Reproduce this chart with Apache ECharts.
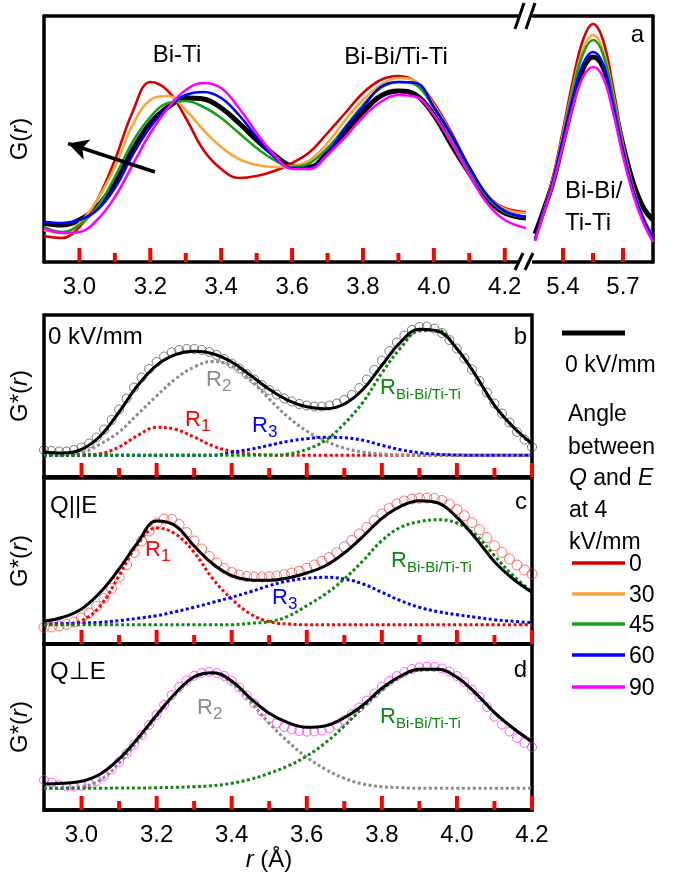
<!DOCTYPE html>
<html><head><meta charset="utf-8">
<script src="https://cdn.jsdelivr.net/npm/echarts@6/dist/echarts.min.js"></script>
<style>html,body{margin:0;padding:0;background:#fff}#c{width:675px;height:875px}</style>
</head><body><div id="c"></div>
<script>
// ---------- DATA ----------
// Panel a, left part (r in Å, G(r) arbitrary units)
const rA = [2.90,2.95,3.00,3.05,3.10,3.15,3.20,3.25,3.30,3.35,3.40,3.45,3.50,3.55,3.60,3.65,3.70,3.75,3.80,3.85,3.90,3.95,4.00,4.05,4.10,4.15,4.20,4.26];
const aBlack   = [39,37,42,55,79,112,139,155,164,163,154,139,122,107,96,95,110,130,150,166,171,167,147,117,89,64,49,44];
const aRed     = [26,24,35,62,102,150,180,171,144,112,93,84,86,91,99,110,129,149,169,182,186,180,159,129,95,67,54,50];
const aOrange  = [32,29,39,62,95,137,162,166,152,132,115,103,97,95,96,102,119,142,162,177,184,180,157,127,94,67,53,49];
const aGreen   = [35,30,37,55,85,120,145,159,161,155,144,129,114,102,95,99,114,135,157,174,180,177,154,125,92,65,50,45];
const aBlue    = [40,39,42,52,74,107,135,155,167,170,164,147,125,105,94,94,109,134,155,175,180,179,155,127,95,67,51,45];
const aMagenta = [34,29,30,42,65,97,129,154,172,179,174,154,129,107,93,93,107,125,145,160,167,165,147,119,87,59,42,34];
// Panel a, right part
const rA2 = [5.26,5.30,5.35,5.40,5.45,5.50,5.55,5.60,5.65,5.70,5.75,5.80,5.85];
const a2Black   = [28,50,80,120,160,193,205,195,160,117,80,55,42];
const a2Red     = [22,49,85,132,182,222,238,222,175,119,75,45,25];
const a2Orange  = [22,48,83,128,175,212,227,212,168,116,74,45,25];
const a2Green   = [22,48,82,126,172,208,222,208,165,114,73,44,25];
const a2Blue    = [23,48,81,123,165,198,210,198,158,111,72,44,25];
const a2Magenta = [21,46,78,116,156,185,195,185,150,106,68,40,20];

// Panels b-d: experimental points
const rPts = [2.90,2.92,2.94,2.96,2.98,3.00,3.02,3.04,3.06,3.08,3.10,3.12,3.14,3.16,3.18,3.20,3.22,3.24,3.26,3.28,3.30,3.32,3.34,3.36,3.38,3.40,3.42,3.44,3.46,3.48,3.50,3.52,3.54,3.56,3.58,3.60,3.62,3.64,3.66,3.68,3.70,3.72,3.74,3.76,3.78,3.80,3.82,3.84,3.86,3.88,3.90,3.92,3.94,3.96,3.98,4.00,4.02,4.04,4.06,4.08,4.10,4.12,4.14,4.16,4.18,4.20];
const ptsB = [27,26,25.5,25.5,27,29.5,33.5,39.5,47.5,57,67.5,78.5,89.5,99.5,108,115,120.5,124.5,127,128,128,127,125,122,118,113.5,108.5,103,97.5,92,87,82.5,78.5,75.5,73,71.5,70.5,70.5,71.5,73.5,77,82,89,97.5,107,116.5,126,134.5,141.5,147,150,150.5,148.5,144,137,128.5,118.5,107.5,96,84.5,73.5,63.5,54.5,45,37.5,30];
const ptsC = [16.7,17,18,19.5,22,26,31,37.5,45.5,55.5,67,79,91.5,103,113,120.5,125,124.5,119.5,111.5,103,95,87.5,81,75.5,71.5,69,67.5,67,67,67.3,68,69.3,71,73,75.7,79,82.7,86.5,91.5,97.3,103.5,110,116.5,123.3,130,135.5,140,143,145,145.7,146,145.5,143.5,139.5,134.3,128.3,121.5,114.3,106.5,98.3,91.5,85,79,74,70];
const ptsD = [30,27.5,25,23.5,23.5,24.3,26,29,34,40.5,48.3,56.5,65.5,75,85,95,105,115,123,129.5,134.3,137,138,137,134,129,122.5,114.5,106.5,98.5,91.7,86.5,83,80.5,79,78.3,78.5,79.5,81.5,85,90,96,102.5,109.5,116.5,123.3,129,134,138,141,142.7,143.3,143,141.5,138.5,134,128,120.5,113,103,93.3,85.5,78.5,72,67,62.7];

// Panels b-d: fits and component peaks
const rFit = [2.90,2.95,3.00,3.05,3.10,3.15,3.20,3.25,3.30,3.35,3.40,3.45,3.50,3.55,3.60,3.65,3.70,3.75,3.80,3.85,3.90,3.95,4.00,4.05,4.10,4.15,4.20];
const fitB = [25,24,27.7,41,65,91.7,111.7,122.3,125.7,123.3,115,101.7,87.7,76.7,70.3,68.3,73,87.7,111.7,135,147.7,145.7,128.3,101.7,71.7,50,33.3];
const r1B  = [21.7,21.7,22,23.3,30,41.7,49.7,47.7,40,31,25.7,23,22,21.7,21.7,21.7,21.7,21.7,21.7,21.7,21.7,21.7,21.7,21.7,21.7,21.7,21.7];
const r2B  = [21.7,22.3,24,33,45,63,81,98,110,115.5,111,97,78,60,46,36,29,25,23,22.2,21.8,21.7,21.7,21.7,21.7,21.7,21.7];
const r3B  = [21.7,21.7,21.7,21.7,21.7,21.7,21.7,21.7,21.7,21.7,24.7,27.7,31.7,35.7,38.3,39.7,39.3,36.7,31.7,27.3,24.3,22.7,22,21.7,21.7,21.7,21.7];
const rbB  = [21.7,21.7,21.7,21.7,21.7,21.7,21.7,21.7,21.7,21.7,21.7,21.7,21.7,23,27.7,36.7,53.3,75,104,129,146,146.5,128.3,101.7,71.7,50,32.3];

const fitC = [22.7,26.7,35,51.7,75,101.7,123,118.3,98,80,68.3,64,63.7,66,71,78.3,91,107.7,125.7,137.7,143.3,141,126.7,105.7,82.3,65,51.7];
const r1C  = [19.3,20,23.3,38.3,68.3,100,116,110,91.7,65,45,30,22.3,20,19.3,19.3,19.3,19.3,19.3,19.3,19.3,19.3,19.3,19.3,19.3,19.3,19.3];
const r3C  = [20,20.3,21,21.7,23.3,25.7,28.3,32.3,36.7,41.7,46.7,52.3,58.3,63,65.7,66.7,65,60,51.7,43.3,36.7,32.3,29.3,26.7,24.3,22.7,21.3];
const rbC  = [19.3,19.3,19.3,19.3,19.3,19.3,19.3,19.3,19.3,19.3,19.3,20.7,22.3,27.7,38.3,50,65,83.3,103.3,116.7,122.3,124.3,121,109,88.3,68.3,52.3];

const fitD = [26,26.7,28.7,36,51,71.7,95,116.7,133.3,137.3,129,111.7,96.7,87.3,82.7,84.3,92.3,105,121.7,134,140.7,140.7,132.7,116.7,97.3,81.7,68.3];
const r2D  = [21.7,22,23.3,30,46.7,69,93.3,115.7,132.3,136.7,127.3,108.3,86.7,68.3,52.7,40.7,31.7,26,23.3,22.3,21.7,21.7,21.7,21.7,21.7,21.7,21.7];
const rbD  = [21.7,21.7,21.7,21.7,22,22,22.3,22.7,23.3,24.3,26.7,30.7,36.7,44,54,67.3,84,102.7,120,133.3,140,140.7,132.7,116.7,97.3,81.7,68.3];

// Tick values and labels
const ticksMajor = [3.0,3.2,3.4,3.6,3.8,4.0,4.2];
const ticksMinor = [3.1,3.3,3.5,3.7,3.9,4.1];
const ticksMajorR = [5.4,5.7];
const ticksMinorR = [5.55];
const angles = ['0','30','45','60','90'];

// ---------- CHART ----------
const FONT = '"Liberation Sans", Arial, sans-serif';
const C = {black:'#000000', red:'#d40000', orange:'#fba53a', green:'#179f17', blue:'#0000ff', magenta:'#ff00ff'};
const zip = (xs, ys) => xs.map((x, i) => [x, ys[i]]);
const inList = (list, v) => list.some(t => Math.abs(t - v) < 1e-6);

function mainX(grid, min, max, interval, labels, extra) {
  return Object.assign({
    type:'value', gridIndex:grid, min:min, max:max, interval:interval, position:'bottom',
    axisLine:{show:true, onZero:false, lineStyle:{color:'#000', width:3.5}},
    axisTick:{show:false},
    axisLabel: labels ? {show:true, formatter:v => inList(labels, v) ? Number(v).toFixed(1) : '',
      fontSize:24, color:'#000', fontFamily:FONT, margin:13} : {show:false},
    splitLine:{show:false}
  }, extra || {});
}
function topX(grid, min, max) {
  return {type:'value', gridIndex:grid, min:min, max:max, position:'top',
    axisLine:{show:true, onZero:false, lineStyle:{color:'#000', width:3.5}},
    axisTick:{show:false}, axisLabel:{show:false}, splitLine:{show:false}};
}
const yName = (txt) => ({
  name: txt, nameLocation:'middle', nameGap:12,
  nameTextStyle:{fontSize:24, color:'#000', fontFamily:FONT,
    rich:{n:{fontSize:24, fontFamily:FONT, color:'#000'}, i:{fontSize:24, fontFamily:FONT, color:'#000', fontStyle:'italic'}}}
});
function yAx(grid, max, showLine, pos, nm) {
  return Object.assign({type:'value', gridIndex:grid, min:0, max:max, position:pos||'left',
    axisLine:{show:showLine, onZero:false, lineStyle:{color:'#000', width:3.5}},
    axisTick:{show:false}, axisLabel:{show:false}, splitLine:{show:false}}, nm ? yName(nm) : {});
}
function line(xi, yi, xs, ys, color, width, dashed, z) {
  return {type:'line', xAxisIndex:xi, yAxisIndex:yi, data:zip(xs, ys), showSymbol:false, smooth:0.4,
    lineStyle:{color:color, width:width, type: dashed ? [3,2.5] : 'solid', cap:'butt'}, z:z||2, silent:true};
}
function pts(xi, yi, ys, color, size) {
  return {type:'scatter', xAxisIndex:xi, yAxisIndex:yi, data:zip(rPts, ys), symbol:'circle', symbolSize:size,
    itemStyle:{color:'rgba(0,0,0,0)', borderColor:color, borderWidth:0.8}, z:1, silent:true};
}

const series = [];
const aL = [[aBlack,C.black,5],[aRed,C.red,2.6],[aOrange,C.orange,2.6],[aGreen,C.green,2.6],[aBlue,C.blue,2.6],[aMagenta,C.magenta,2.6]];
aL.forEach(([d,c,w]) => series.push(line(0,0,rA,d,c,w,false,3)));
const aR = [[a2Black,C.black,5],[a2Red,C.red,2.6],[a2Orange,C.orange,2.6],[a2Green,C.green,2.6],[a2Blue,C.blue,2.6],[a2Magenta,C.magenta,2.6]];
aR.forEach(([d,c,w]) => series.push(line(2,1,rA2,d,c,w,false,3)));

const DR='#ff0000', DG='#8c8c8c', DB='#0000ff', DGR='#0a8a0a';
series.push(pts(4,2,ptsB,'#333333',9));
series.push(line(4,2,rFit,r1B,DR,3,true,2));
series.push(line(4,2,rFit,r2B,DG,3,true,2));
series.push(line(4,2,rFit,r3B,DB,3,true,2));
series.push(line(4,2,rFit,rbB,DGR,3,true,2));
series.push(line(4,2,rFit,fitB,'#000',3,false,3));
series.push(pts(5,3,ptsC,'#ff2020',10));
series.push(line(5,3,rFit,r1C,DR,3,true,2));
series.push(line(5,3,rFit,r3C,DB,3,true,2));
series.push(line(5,3,rFit,rbC,DGR,3,true,2));
series.push(line(5,3,rFit,fitC,'#000',3,false,3));
series.push(pts(6,4,ptsD,'#ff00ff',9));
series.push(line(6,4,rFit,r2D,DG,3,true,2));
series.push(line(6,4,rFit,rbD,DGR,3,true,2));
series.push(line(6,4,rFit,fitD,'#000',3,false,3));
series.push({type:'line', xAxisIndex:0, yAxisIndex:0, data:[[3.0,-10]], showSymbol:false, silent:true,
  markLine:{silent:true, symbol:['none','arrow'], symbolSize:[16,20], label:{show:false},
    lineStyle:{color:'#000', width:3.5, type:'solid'},
    data:[[{coord:[3.213,90]},{coord:[2.968,118.5]}]]}});

function T(x, base, text, size, color, align, rich, italic) {
  const st = {text:text, fill:color||'#000', fontSize:size, fontFamily:FONT,
    align:align||'left', textAlign:align||'left', verticalAlign:'middle', textVerticalAlign:'middle'};
  if (italic) st.fontStyle = 'italic';
  if (rich) st.rich = rich;
  return {type:'text', x:x, y:base - 0.33*size, style:st, silent:true, z:50};
}
function RL(x, base, sub, color, subSize) {
  const ss = subSize || 17;
  return [T(x, base, 'R', 22, color), T(x + 16, base + 5, sub, ss, color)];
}
function L(x1, y1, x2, y2, color, w) {
  return {type:'line', shape:{x1:x1,y1:y1,x2:x2,y2:y2}, style:{stroke:color, lineWidth:w, lineCap:'butt'}, silent:true, z:50};
}
const richI = {n:{fontSize:23, fontFamily:FONT, fill:'#000'}, i:{fontSize:23, fontFamily:FONT, fill:'#000', fontStyle:'italic'}};

const graphic = [
  T(177, 63, 'Bi-Ti', 24, '#000', 'center'),
  T(396, 65, 'Bi-Bi/Ti-Ti', 24, '#000', 'center'),
  T(644, 43, 'a', 24, '#000', 'right'),
  T(565, 199, 'Bi-Bi/', 24),
  T(565, 231, 'Ti-Ti', 24),
  {type:'rect', shape:{x:519, y:10, width:13, height:12}, style:{fill:'#fff'}, silent:true, z:49},
  {type:'rect', shape:{x:519, y:250, width:13, height:18}, style:{fill:'#fff'}, silent:true, z:49},
  L(515, 29, 524, 3, '#000', 3), L(526, 29, 535, 3, '#000', 3),
  L(515, 270, 523, 253, '#000', 3), L(525, 270, 533, 253, '#000', 3),
  T(48, 345, '0 kV/mm', 24),
  T(527, 345, 'b', 24, '#000', 'right'),
  T(50, 514, 'Q||E', 24),
  T(527, 510, 'c', 24, '#000', 'right'),
  T(50, 680, 'Q\u22A5E', 24),
  T(527, 678, 'd', 24, '#000', 'right'),
  ...RL(206, 387, '2', DG),
  ...RL(185, 427, '1', DR),
  ...RL(252, 433, '3', DB),
  ...RL(380, 395, 'Bi-Bi/Ti-Ti', DGR, 15),
  ...RL(145, 557, '1', DR),
  ...RL(272, 605, '3', DB),
  ...RL(391, 568, 'Bi-Bi/Ti-Ti', DGR, 15),
  ...RL(197, 715, '2', DG),
  ...RL(380, 724, 'Bi-Bi/Ti-Ti', DGR, 15),
  L(562, 333, 625, 333, '#000', 5),
  T(565, 373, '0 kV/mm', 23),
  T(568, 422, 'Angle', 23),
  T(568, 455, 'between', 23),
  T(569, 486, '{i|Q}{n| and }{i|E}', 23, '#000', 'left', richI),
  T(569, 518, 'at 4', 23),
  T(569, 550, 'kV/mm', 23),
];
const legCols = [C.red, C.orange, C.green, C.blue, C.magenta];
const legY = [563, 594, 624, 655, 687];
angles.forEach((a, i) => {
  graphic.push(L(572, legY[i], 625, legY[i], legCols[i], 3.5));
  graphic.push(T(629, legY[i] + 9, a, 23));
});

const option = {
  animation:false,
  backgroundColor:'#fff',
  textStyle:{fontFamily:FONT},
  grid:[
    {left:40, top:16, width:486, height:246},
    {left:533, top:16, width:120, height:246},
    {left:40, top:315, width:492, height:162, show:true, borderColor:'#000', borderWidth:3.5},
    {left:40, top:478, width:492, height:166, show:true, borderColor:'#000', borderWidth:3.5},
    {left:40, top:644, width:492, height:166, show:true, borderColor:'#000', borderWidth:3.5}
  ],
  xAxis:[
    mainX(0, 2.9, 4.26, 0.1, ticksMajor),
    topX(0, 2.9, 4.26),
    mainX(1, 5.25, 5.85, 0.15, ticksMajorR),
    topX(1, 5.25, 5.85),
    mainX(2, 2.9, 4.2, 0.1, null),
    mainX(3, 2.9, 4.2, 0.1, null),
    mainX(4, 2.9, 4.2, 0.1, ticksMajor, {
      name:'{i|r} (Å)', nameLocation:'middle', nameGap:36,
      nameTextStyle:{fontSize:24, color:'#000', fontFamily:FONT, padding:[0,38,0,0],
        rich:{i:{fontSize:24, fontFamily:FONT, color:'#000', fontStyle:'italic'}}}
    })
  ],
  yAxis:[
    yAx(0, 246, true, 'left', '{n|G(}{i|r}{n|)}'),
    yAx(1, 246, true, 'right'),
    yAx(2, 162, false, 'left', '{n|G*(}{i|r}{n|)}'),
    yAx(3, 166, false, 'left', '{n|G*(}{i|r}{n|)}'),
    yAx(4, 166, false, 'left', '{n|G*(}{i|r}{n|)}')
  ],
  series: series,
  graphic: graphic
};
const chart = echarts.init(document.getElementById('c'), null, {renderer:'canvas'});
chart.setOption(option);

// inside tick marks, positioned through the axes' own scales (red = diagnostic)
const tickDefs = [
  [0,0,ticksMajor,14],[0,0,ticksMinor,9],
  [2,1,ticksMajorR,14],[2,1,ticksMinorR,9],
  [4,2,ticksMajor,14],[4,2,ticksMinor,9],
  [5,3,ticksMajor,14],[5,3,ticksMinor,9],
  [6,4,ticksMajor,14],[6,4,ticksMinor,9]
];
const tickEls = [];
tickDefs.forEach(([xi, yi, vals, len]) => vals.forEach(v => {
  const p = chart.convertToPixel({xAxisIndex:xi, yAxisIndex:yi}, [v, 0]);
  if (p && isFinite(p[0]) && isFinite(p[1])) tickEls.push(L(p[0], p[1], p[0], p[1] - len, '#ff0000', 4));
}));
chart.setOption({graphic: graphic.concat(tickEls)});
</script></body></html>
